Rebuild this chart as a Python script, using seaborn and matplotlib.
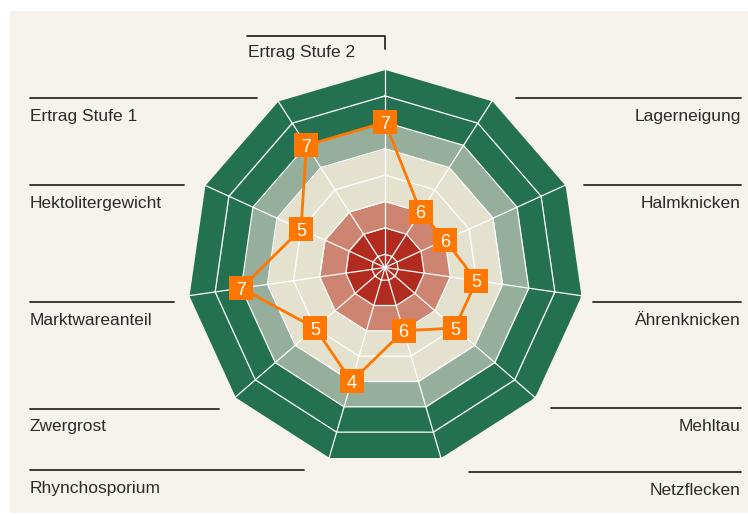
import matplotlib
matplotlib.use('Agg')
import matplotlib.pyplot as plt
import seaborn as sns
import pandas as pd
import numpy as np
from matplotlib.patches import Rectangle


traits = ['Ertrag Stufe 2', 'Lagerneigung', 'Halmknicken', 'Ährenknicken',
          'Mehltau', 'Netzflecken', 'Rhynchosporium', 'Zwergrost',
          'Marktwareanteil', 'Hektolitergewicht', 'Ertrag Stufe 1']
scores = [7, 6, 6, 5, 5, 6, 4, 5, 7, 5, 7]
# for these traits a low score is good, so they are drawn inverted (10 - score)
inverted = [False, True, True, True, True, True, True, True, False, False, False]

band_edges = [1.5, 2, 3, 4, 5, 6, 7, 8, 9]
band_colors = ['#b22b1f', '#b22b1f', '#cd8470', '#e4e2cf', '#e4e2cf',
               '#96ae9c', '#237151', '#237151']

W, H = 748, 515
BG = '#f6f3ec'
ORANGE = '#ff7700'
TEXT = '#2b2b2b'

# label layout: trait -> (side, line y, line end x) in pixels
label_layout = {
    'Ertrag Stufe 1': ('left', 97.5, 257),
    'Hektolitergewicht': ('left', 185, 184),
    'Marktwareanteil': ('left', 302, 174),
    'Zwergrost': ('left', 408.5, 219),
    'Rhynchosporium': ('left', 470, 304),
    'Lagerneigung': ('right', 97.7, 516),
    'Halmknicken': ('right', 185.3, 584),
    'Ährenknicken': ('right', 301.7, 593),
    'Mehltau': ('right', 408.3, 551),
    'Netzflecken': ('right', 471.7, 469),
}


def main():
    sns.set_theme(style='white')
    plt.rcParams['font.family'] = ['Liberation Sans', 'DejaVu Sans']

    df = pd.DataFrame({'trait': traits, 'score': scores, 'inverted': inverted})
    n = len(df)
    df['theta'] = np.arange(n) * 2 * np.pi / n
    df['r'] = np.where(df['inverted'], 10 - df['score'], df['score'])
    closed = pd.concat([df, df.iloc[[0]]], ignore_index=True)
    closed.loc[n, 'theta'] = 2 * np.pi
    theta_c = closed['theta'].values

    fig = plt.figure(figsize=(W / 100, H / 100), dpi=100)
    fig.patch.set_facecolor('white')

    # background layer in pixel coordinates
    bg = fig.add_axes([0, 0, 1, 1])
    bg.set_xlim(0, W)
    bg.set_ylim(H, 0)
    bg.axis('off')
    bg.set_zorder(0)
    bg.add_patch(Rectangle((10, 11), W - 10, 502, color=BG, lw=0))

    cx, cy, R = 385, 267.5, 198
    ax = fig.add_axes([(cx - R) / W, (H - cy - R) / H, 2 * R / W, 2 * R / H],
                      projection='polar')
    ax.set_zorder(1)
    ax.patch.set_alpha(0)
    ax.set_theta_zero_location('N')
    ax.set_theta_direction(-1)
    ax.set_ylim(1.5, 9)
    ax.grid(False)
    ax.set_xticks([])
    ax.set_yticks([])
    ax.spines['polar'].set_visible(False)

    for lo, hi, c in zip(band_edges[:-1], band_edges[1:], band_colors):
        ax.fill_between(theta_c, lo, hi, color=c, lw=0, zorder=1)
    for lvl in band_edges[1:-1]:
        ax.plot(theta_c, [lvl] * len(theta_c), color='white', lw=0.9, zorder=2)
    for t in df['theta']:
        ax.plot([t, t], [1.5, 9], color='white', lw=0.9, zorder=2,
                clip_on=False)

    sns.lineplot(data=closed, x='theta', y='r', sort=False, estimator=None,
                 color=ORANGE, lw=2, ax=ax, zorder=3)
    sns.scatterplot(data=df, x='theta', y='r', marker='s', s=275,
                    color=ORANGE, linewidth=0, ax=ax, zorder=4)
    for _, row in df.iterrows():
        ax.text(row['theta'], row['r'], str(row['score']), color='white',
                fontsize=13, ha='center', va='center_baseline', zorder=5)
    ax.set_xlabel('')
    ax.set_ylabel('')
    ax.set_ylim(1.5, 9)

    # labels with rules
    for trait, (side, ly, xe) in label_layout.items():
        if side == 'left':
            bg.plot([30, xe], [ly, ly], color=TEXT, lw=1.3)
            bg.text(30, ly + 18.5, trait, ha='left', va='center',
                    fontsize=12.5, color=TEXT)
        else:
            bg.plot([xe, 741], [ly, ly], color=TEXT, lw=1.3)
            bg.text(741, ly + 18.5, trait, ha='right', va='center',
                    fontsize=12.5, color=TEXT)
    bg.plot([247.5, 385.5, 385.5], [36, 36, 48.5], color=TEXT, lw=1.3)
    bg.text(248, 52.5, traits[0], ha='left', va='center', fontsize=12.5,
            color=TEXT)

    fig.savefig('out.png', dpi=100)


if __name__ == '__main__':
    main()
